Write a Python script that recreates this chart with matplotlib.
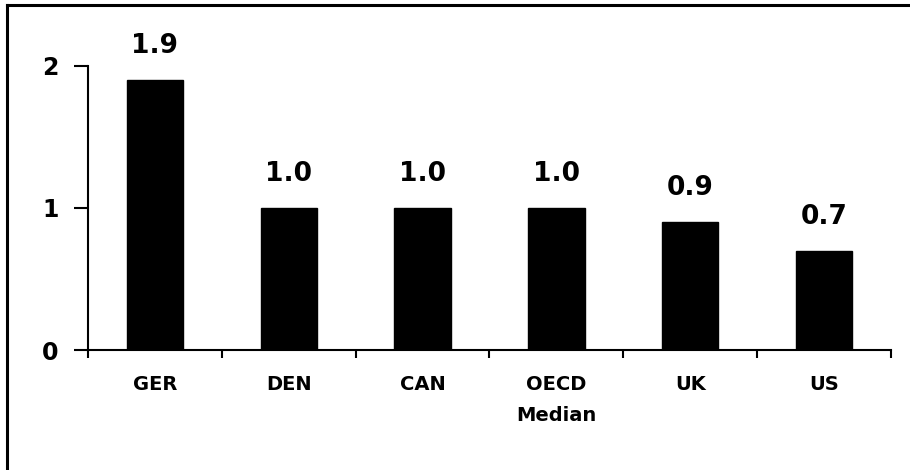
#!/usr/bin/env python3

import numpy as np
import matplotlib
matplotlib.use("Agg")
import matplotlib.pyplot as plt
from matplotlib.lines import Line2D

plt.rcParams["font.family"] = ["DejaVu Sans"]
plt.rcParams["font.weight"] = "bold"

countries = ["GER", "DEN", "CAN", "OECD\nMedian", "UK", "US"]
values = [1.9, 1.0, 1.0, 1.0, 0.9, 0.7]
y_ticks = [0, 1, 2]

fig = plt.figure(figsize=(9.1, 4.7), dpi=100)
ax = fig.add_axes([0.0967, 0.2553, 0.8824, 0.6043])

x = np.arange(len(countries))
ax.bar(x, values, width=0.42, color="black", edgecolor="black")

for xi, v in zip(x, values):
    ax.annotate(f"{v:.1f}", (xi, v), xytext=(0, 15), textcoords="offset points",
                ha="center", va="bottom", fontsize=19, fontweight="bold",
                annotation_clip=False)

ax.set_xlim(-0.5, len(countries) - 0.5)
ax.set_ylim(0, 2)
ax.set_yticks(y_ticks)
ax.set_yticklabels([str(t) for t in y_ticks], fontsize=17, fontweight="bold")

# category names centred, tick marks on the boundaries
ax.set_xticks(x)
ax.set_xticklabels(countries, fontsize=14, fontweight="bold", linespacing=1.8)
ax.set_xticks(np.arange(-0.5, len(countries)), minor=True)
ax.tick_params(axis="x", which="major", length=0, pad=18)
ax.tick_params(axis="x", which="minor", length=6, width=1.5, direction="out")
ax.tick_params(axis="y", length=10, width=1.5, direction="out", pad=11)

for side in ("top", "right"):
    ax.spines[side].set_visible(False)
for side in ("left", "bottom"):
    ax.spines[side].set_linewidth(1.5)
    ax.spines[side].set_color("black")

# frame lines along the top and left edge
fig.add_artist(Line2D([7 / 910, 1.0], [1 - 5 / 470, 1 - 5 / 470],
                      transform=fig.transFigure, color="black", linewidth=2.2))
fig.add_artist(Line2D([7 / 910, 7 / 910], [0.0, 1 - 5 / 470],
                      transform=fig.transFigure, color="black", linewidth=2.2))

fig.savefig("out.png", dpi=100)
